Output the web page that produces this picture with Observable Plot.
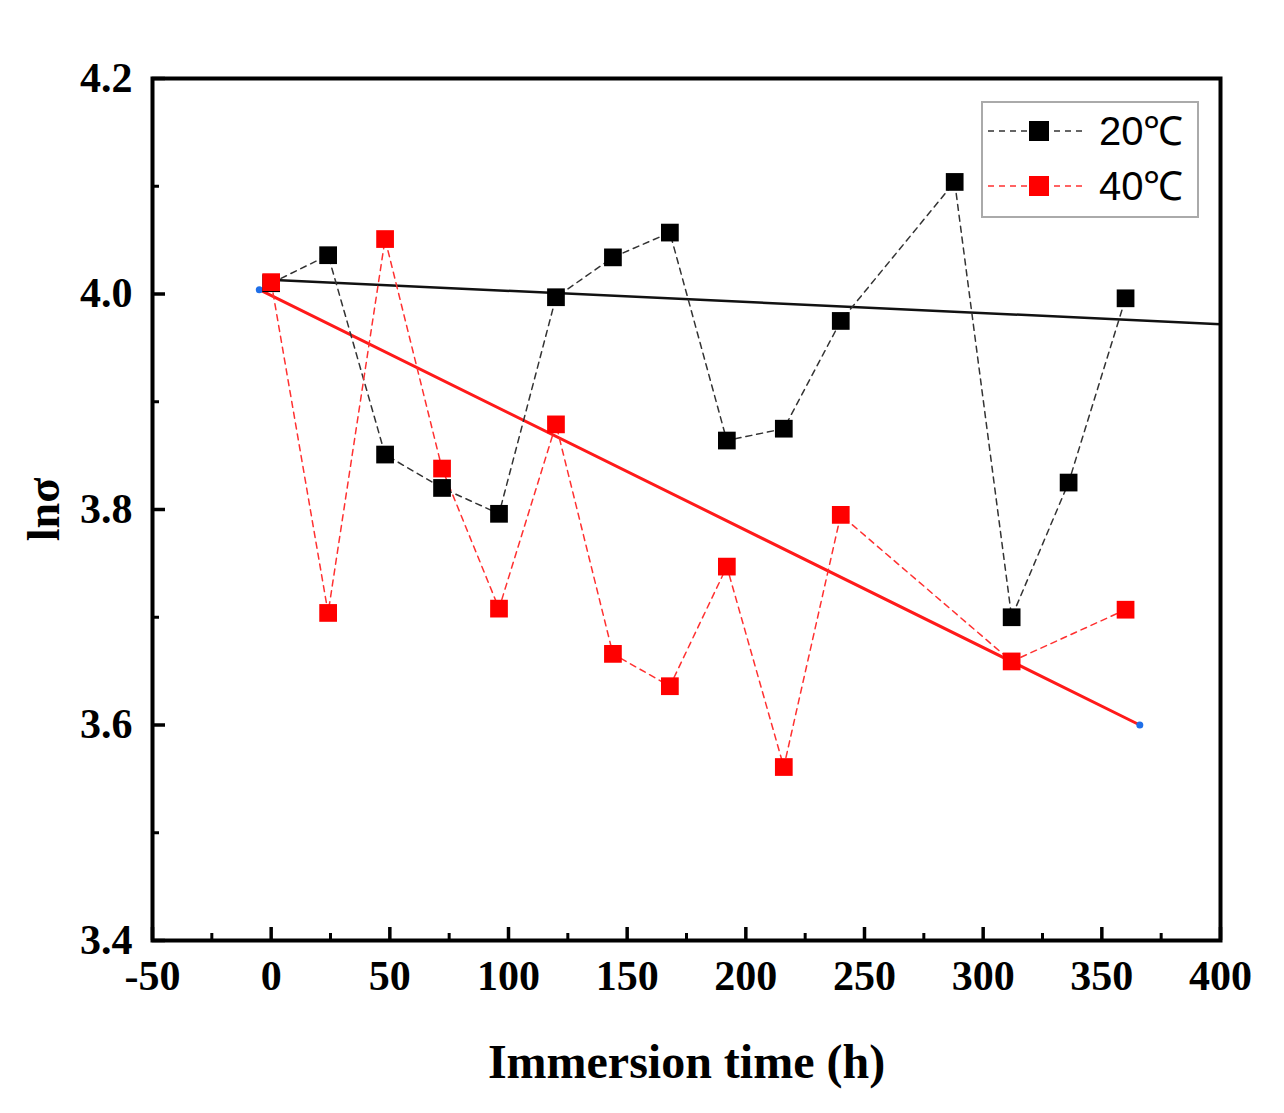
<!DOCTYPE html>
<html>
<head>
<meta charset="utf-8">
<script src="https://cdn.jsdelivr.net/npm/d3@7"></script>
<script src="https://cdn.jsdelivr.net/npm/@observablehq/plot@0.6"></script>
<style>
  body { margin: 0; background: #fff; }
  #chart { position: relative; width: 1284px; height: 1113px; }
  #legend { position: absolute; left: 981px; top: 101px; }
</style>
</head>
<body>
<div id="chart"><div id="legend"></div></div>
<script>
// immersion time (h)
const hours20 = [0, 24, 48, 72, 96, 120, 144, 168, 192, 216, 240, 288, 312, 336, 360]
const lnSigma20 = [4.010, 4.036, 3.851, 3.820, 3.796, 3.997, 4.034, 4.057, 3.864, 3.875, 3.975, 4.104, 3.700, 3.825, 3.996]

const hours40 = [0, 24, 48, 72, 96, 120, 144, 168, 192, 216, 240, 312, 360]
const lnSigma40 = [4.011, 3.704, 4.051, 3.838, 3.708, 3.879, 3.666, 3.636, 3.747, 3.561, 3.795, 3.659, 3.707]

// linear fits
const fit20 = [{x: -3, y: 4.0135}, {x: 400, y: 3.972}]
const fit40 = [{x: -5, y: 4.004}, {x: 366, y: 3.600}]

const xTicks = d3.range(-50, 401, 50)
const xMinor = d3.range(-25, 400, 50)
const yTicks = [3.4, 3.6, 3.8, 4.0, 4.2]
const yMinor = [3.5, 3.7, 3.9, 4.1]

const s20 = hours20.map((h, i) => ({x: h, y: lnSigma20[i]}))
const s40 = hours40.map((h, i) => ({x: h, y: lnSigma40[i]}))

const W = 1284, H = 1113
const mL = 152, mR = 64, mT = 78, mB = 173
const plotH = H - mT - mB, plotW = W - mL - mR

let chart = Plot.plot({
  width: W,
  height: H,
  marginLeft: mL,
  marginRight: mR,
  marginTop: mT,
  marginBottom: mB,
  style: {fontFamily: "'Liberation Serif', 'Times New Roman', serif", fontWeight: "bold", fontSize: "42px", color: "#000", background: "#fff"},
  x: {domain: [-50, 400]},
  y: {domain: [3.4, 4.2]},
  marks: [
    // inward ticks
    Plot.ruleX(xTicks, {x: d => d, insetTop: plotH - 13, stroke: "#000", strokeWidth: 3.5}),
    Plot.ruleX(xMinor, {x: d => d, insetTop: plotH - 7, stroke: "#000", strokeWidth: 3}),
    Plot.ruleY(yTicks, {y: d => d, insetRight: plotW - 13, stroke: "#000", strokeWidth: 3.5}),
    Plot.ruleY(yMinor, {y: d => d, insetRight: plotW - 7, stroke: "#000", strokeWidth: 3}),

    Plot.axisX({ticks: xTicks, tickSize: 0, tickPadding: 20, tickFormat: d => String(d), label: null, fontSize: 42, fontWeight: "bold"}),
    Plot.axisY({ticks: yTicks, tickSize: 0, tickPadding: 20, tickFormat: d3.format(".1f"), label: null, fontSize: 42, fontWeight: "bold"}),

    // fit lines
    Plot.line(fit20, {x: "x", y: "y", stroke: "#111", strokeWidth: 2.5}),
    Plot.line(fit40, {x: "x", y: "y", stroke: "#ff1a1a", strokeWidth: 3}),
    Plot.dot(fit40, {x: "x", y: "y", r: 3.5, fill: "#1f6fe8"}),

    // data
    Plot.line(s20, {x: "x", y: "y", stroke: "#333", strokeWidth: 1.5, strokeDasharray: "6,5"}),
    Plot.line(s40, {x: "x", y: "y", stroke: "#ff3030", strokeWidth: 1.5, strokeDasharray: "6,5"}),
    Plot.dot(s20, {x: "x", y: "y", symbol: "square", r: 10, fill: "#000"}),
    Plot.dot(s40, {x: "x", y: "y", symbol: "square", r: 10, fill: "#ff0000"}),

    Plot.frame({stroke: "#000", strokeWidth: 4}),

    Plot.text(["Immersion time (h)"], {frameAnchor: "bottom", dy: 122, lineAnchor: "middle", fontSize: 48, fontWeight: "bold"}),
    Plot.text(["lnσ"], {frameAnchor: "left", dx: -108, textAnchor: "middle", lineAnchor: "middle", rotate: -90, fontSize: 46, fontWeight: "bold"})
  ]
})

d3.select("#chart").insert(() => chart, "#legend")

// legend
const series = [{label: "20℃", color: "#000", line: "#333"}, {label: "40℃", color: "#ff0000", line: "#ff3030"}]
const lg = d3.select("#legend").append("svg").attr("width", 218).attr("height", 117)
lg.append("rect").attr("x", 1).attr("y", 1).attr("width", 216).attr("height", 115)
  .attr("fill", "#fff").attr("stroke", "#aaa").attr("stroke-width", 2)
series.forEach((s, i) => {
  const cy = 30 + i * 55
  lg.append("line").attr("x1", 7).attr("x2", 102).attr("y1", cy).attr("y2", cy)
    .attr("stroke", s.line).attr("stroke-width", 1.5).attr("stroke-dasharray", "6,5")
  lg.append("rect").attr("x", 48).attr("y", cy - 10).attr("width", 20).attr("height", 20).attr("fill", s.color)
  lg.append("text").attr("x", 118).attr("y", cy).attr("dy", "0.36em")
    .attr("font-family", "'Liberation Sans', Arial, sans-serif").attr("font-size", 40)
    .text(s.label)
})
</script>
</body>
</html>
